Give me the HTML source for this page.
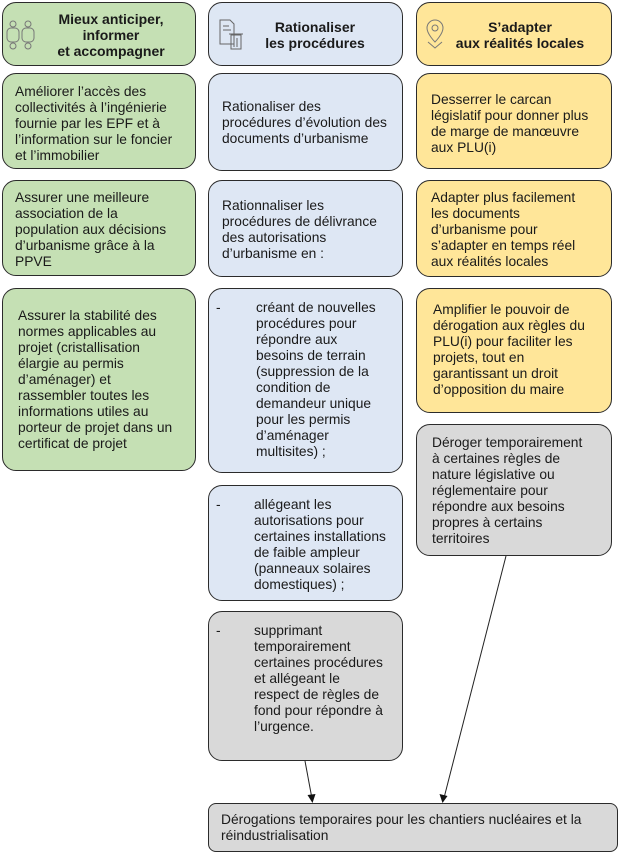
<!DOCTYPE html>
<html><head><meta charset="utf-8"><style>
body{margin:0;width:618px;height:853px;position:relative;background:#fff;font-family:"Liberation Sans",Arial,sans-serif;font-size:13.8px;line-height:16px;color:#1a1a1a}
.b{position:absolute;box-sizing:border-box;border:1px solid #2b2b2b;border-radius:14px}
.g{background:#c5e0b4}.bl{background:#dee7f4}.y{background:#ffe699}.gr{background:#d9d9d9}
.t{position:absolute;white-space:nowrap}
.h{font-weight:bold;text-align:center;font-size:14px}
.d{position:absolute;left:7px}
</style></head><body>
<div class="b g" style="left:2px;top:2px;width:194px;height:64px"></div>
<div class="b bl" style="left:208px;top:2px;width:195px;height:64px"></div>
<div class="b y" style="left:416px;top:2px;width:196px;height:64px"></div>
<svg style="position:absolute;left:4px;top:18px" width="34" height="34" viewBox="0 0 34 34" fill="none" stroke="#777" stroke-width="1">
<circle cx="9" cy="6" r="3"/><circle cx="24" cy="6" r="3"/><circle cx="9" cy="28" r="3"/><circle cx="24" cy="28" r="3"/>
<rect x="3" y="10" width="12" height="14" rx="4"/><rect x="18" y="10" width="12" height="14" rx="4"/></svg>
<div class="t h" style="left:36px;top:11px;width:150px">Mieux anticiper,<br>informer<br>et accompagner</div>
<svg style="position:absolute;left:218px;top:18px" width="34" height="34" viewBox="0 0 34 34" fill="none" stroke="#666" stroke-width="1">
<path d="M2 2h10l4 4v20H2z"/><path d="M5 8h6M5 12h8"/><rect x="13" y="17" width="10" height="14"/><path d="M11 16h14M16 20v9M19 20v9"/></svg>
<div class="t h" style="left:240px;top:19px;width:150px">Rationaliser<br>les procédures</div>
<svg style="position:absolute;left:424px;top:18px" width="22" height="32" viewBox="0 0 22 32" fill="none" stroke="#777" stroke-width="1">
<path d="M11 2a8 8 0 0 1 8 8c0 6-8 14-8 14S3 16 3 10a8 8 0 0 1 8-8z"/><circle cx="11" cy="10" r="3"/><path d="M4 24l7 6 7-6"/></svg>
<div class="t h" style="left:440px;top:19px;width:160px">S’adapter<br>aux réalités locales</div>

<div class="b g" style="left:2px;top:73px;width:194px;height:96px"></div>
<div class="t" style="left:15px;top:84px">Améliorer l’accès des<br>collectivités à l’ingénierie<br>fournie par les EPF et à<br>l’information sur le foncier<br>et l’immobilier</div>
<div class="b bl" style="left:208px;top:73px;width:195px;height:98px"></div>
<div class="t" style="left:222px;top:99px">Rationaliser des<br>procédures d’évolution des<br>documents d’urbanisme</div>
<div class="b y" style="left:416px;top:73px;width:196px;height:96px"></div>
<div class="t" style="left:431px;top:92px">Desserrer le carcan<br>législatif pour donner plus<br>de marge de manœuvre<br>aux PLU(i)</div>

<div class="b g" style="left:2px;top:180px;width:194px;height:96px"></div>
<div class="t" style="left:15px;top:190px">Assurer une meilleure<br>association de la<br>population aux décisions<br>d’urbanisme grâce à la<br>PPVE</div>
<div class="b bl" style="left:208px;top:180px;width:195px;height:97px"></div>
<div class="t" style="left:222px;top:198px">Rationnaliser les<br>procédures de délivrance<br>des autorisations<br>d’urbanisme en :</div>
<div class="b y" style="left:416px;top:180px;width:196px;height:97px"></div>
<div class="t" style="left:431px;top:190px">Adapter plus facilement<br>les documents<br>d’urbanisme pour<br>s’adapter en temps réel<br>aux réalités locales</div>

<div class="b g" style="left:2px;top:288px;width:194px;height:183px"></div>
<div class="t" style="left:18px;top:308px">Assurer la stabilité des<br>normes applicables au<br>projet (cristallisation<br>élargie au permis<br>d’aménager) et<br>rassembler toutes les<br>informations utiles au<br>porteur de projet dans un<br>certificat de projet</div>
<div class="b bl" style="left:208px;top:288px;width:195px;height:185px"><span class="d" style="top:11px">-</span><div class="t" style="left:47px;top:11px">créant de nouvelles<br>procédures pour<br>répondre aux<br>besoins de terrain<br>(suppression de la<br>condition de<br>demandeur unique<br>pour les permis<br>d’aménager<br>multisites) ;</div></div>
<div class="b y" style="left:416px;top:288px;width:196px;height:125px"></div>
<div class="t" style="left:433px;top:302px">Amplifier le pouvoir de<br>dérogation aux règles du<br>PLU(i) pour faciliter les<br>projets, tout en<br>garantissant un droit<br>d’opposition du maire</div>

<div class="b bl" style="left:208px;top:485px;width:195px;height:116px"><span class="d" style="top:11px">-</span><div class="t" style="left:45px;top:11px">allégeant les<br>autorisations pour<br>certaines installations<br>de faible ampleur<br>(panneaux solaires<br>domestiques) ;</div></div>
<div class="b gr" style="left:208px;top:611px;width:195px;height:150px"><span class="d" style="top:11px">-</span><div class="t" style="left:45px;top:11px">supprimant<br>temporairement<br>certaines procédures<br>et allégeant le<br>respect de règles de<br>fond pour répondre à<br>l’urgence.</div></div>
<div class="b gr" style="left:416px;top:424px;width:196px;height:132px"></div>
<div class="t" style="left:432px;top:435px">Déroger temporairement<br>à certaines règles de<br>nature législative ou<br>réglementaire pour<br>répondre aux besoins<br>propres à certains<br>territoires</div>

<div class="b gr" style="left:208px;top:803px;width:410px;height:49px;border-radius:8px"></div>
<div class="t" style="left:221px;top:812px">Dérogations temporaires pour les chantiers nucléaires et la<br>réindustrialisation</div>

<svg style="position:absolute;left:0;top:0" width="618" height="853">
<line x1="305" y1="761" x2="311.5" y2="796" stroke="#222" stroke-width="1"/>
<polygon points="312.5,803 307.5,795 315.5,794" fill="#111"/>
<line x1="506" y1="556" x2="444.5" y2="796" stroke="#222" stroke-width="1"/>
<polygon points="442.5,803 439.5,794 447.5,796" fill="#111"/>
</svg>
</body></html>
